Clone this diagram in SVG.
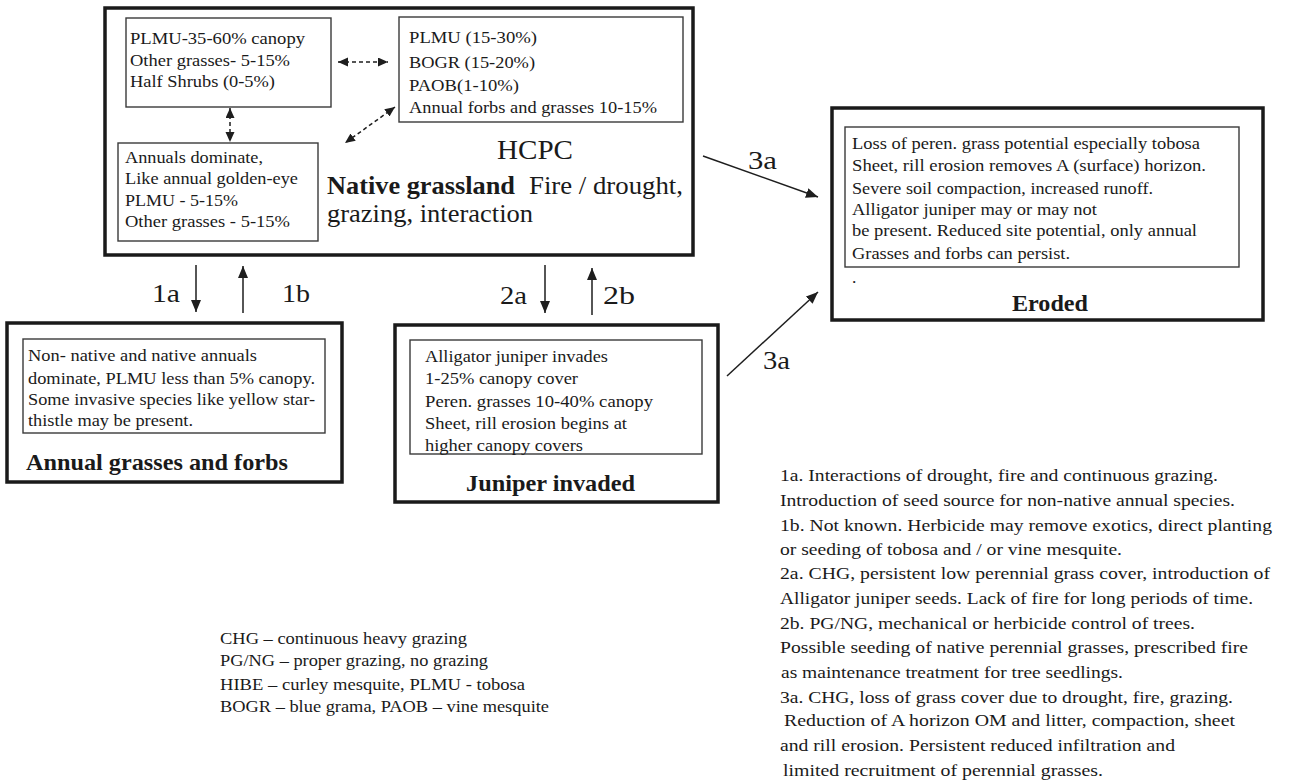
<svg xmlns="http://www.w3.org/2000/svg" width="1306" height="783" viewBox="0 0 1306 783">
<style>
text{font-family:"Liberation Serif","Times New Roman",serif;fill:#1a1a1a}
.t{font-size:17.5px}
.lg{font-size:17px}
.lab{font-size:26px}
.ttl{font-size:24px;font-weight:bold}
.outer{fill:#fff;stroke:#1a1a1a;stroke-width:3.5}
.inner{fill:#fff;stroke:#3a3a3a;stroke-width:1.4}
.ar{stroke:#1e1e1e;stroke-width:1.5;fill:none}
.da{stroke:#1e1e1e;stroke-width:1.5;fill:none;stroke-dasharray:4 3}
</style>
<defs>
<marker id="ah" markerUnits="userSpaceOnUse" markerWidth="14" markerHeight="12" refX="12" refY="5" orient="auto"><path d="M0,0 L12,5 L0,10 Z" fill="#1e1e1e"/></marker>
<marker id="dh" markerUnits="userSpaceOnUse" markerWidth="12" markerHeight="10" refX="10" refY="4.5" orient="auto-start-reverse"><path d="M0,0 L10,4.5 L0,9 Z" fill="#1e1e1e"/></marker>
</defs>
<rect width="1306" height="783" fill="#fff"/>

<g id="hcpc">
<rect class="outer" x="105" y="8" width="588" height="247"/>
<rect class="inner" x="126" y="18" width="205" height="89"/>
<text class="t" x="130" y="44" textLength="175" lengthAdjust="spacingAndGlyphs">PLMU-35-60% canopy</text>
<text class="t" x="130" y="66" textLength="160" lengthAdjust="spacingAndGlyphs">Other grasses- 5-15%</text>
<text class="t" x="130" y="87" textLength="145" lengthAdjust="spacingAndGlyphs">Half Shrubs (0-5%)</text>
<rect class="inner" x="399" y="17" width="284" height="105"/>
<text class="t" x="409" y="43" textLength="128" lengthAdjust="spacingAndGlyphs">PLMU (15-30%)</text>
<text class="t" x="409" y="68" textLength="126" lengthAdjust="spacingAndGlyphs">BOGR (15-20%)</text>
<text class="t" x="409" y="91" textLength="110" lengthAdjust="spacingAndGlyphs">PAOB(1-10%)</text>
<text class="t" x="409" y="113" textLength="248" lengthAdjust="spacingAndGlyphs">Annual forbs and grasses 10-15%</text>
<rect class="inner" x="118" y="143" width="200" height="98"/>
<text class="t" x="125" y="163" textLength="138" lengthAdjust="spacingAndGlyphs">Annuals dominate,</text>
<text class="t" x="125" y="184" textLength="173" lengthAdjust="spacingAndGlyphs">Like annual golden-eye</text>
<text class="t" x="125" y="206" textLength="113" lengthAdjust="spacingAndGlyphs">PLMU - 5-15%</text>
<text class="t" x="125" y="227" textLength="165" lengthAdjust="spacingAndGlyphs">Other grasses - 5-15%</text>
<text x="497" y="159" font-size="28" textLength="76" lengthAdjust="spacingAndGlyphs">HCPC</text>
<text x="327" y="194" font-size="25" font-weight="bold" textLength="188" lengthAdjust="spacingAndGlyphs">Native grassland</text>
<text x="529" y="194" font-size="25" textLength="154" lengthAdjust="spacingAndGlyphs">Fire / drought,</text>
<text x="327" y="222" font-size="25" textLength="206" lengthAdjust="spacingAndGlyphs">grazing, interaction</text>
</g>

<g id="annual">
<rect class="outer" x="7" y="323" width="335" height="159"/>
<rect class="inner" x="23" y="339" width="302" height="94"/>
<text class="t" x="28" y="361" textLength="229" lengthAdjust="spacingAndGlyphs">Non- native and native annuals</text>
<text class="t" x="28" y="384" textLength="287" lengthAdjust="spacingAndGlyphs">dominate, PLMU less than 5% canopy.</text>
<text class="t" x="28" y="405" textLength="287" lengthAdjust="spacingAndGlyphs">Some invasive species like yellow star-</text>
<text class="t" x="28" y="426" textLength="165" lengthAdjust="spacingAndGlyphs">thistle may be present.</text>
<text class="ttl" x="26" y="470" textLength="262" lengthAdjust="spacingAndGlyphs">Annual grasses and forbs</text>
</g>

<g id="juniper">
<rect class="outer" x="395" y="325" width="323" height="177"/>
<rect class="inner" x="410" y="340" width="292" height="114"/>
<text class="t" x="425" y="362" textLength="183" lengthAdjust="spacingAndGlyphs">Alligator juniper invades</text>
<text class="t" x="425" y="384" textLength="153" lengthAdjust="spacingAndGlyphs">1-25% canopy cover</text>
<text class="t" x="425" y="407" textLength="228" lengthAdjust="spacingAndGlyphs">Peren. grasses 10-40% canopy</text>
<text class="t" x="425" y="429" textLength="202" lengthAdjust="spacingAndGlyphs">Sheet, rill erosion begins at</text>
<text class="t" x="425" y="451" textLength="158" lengthAdjust="spacingAndGlyphs">higher canopy covers</text>
<text class="ttl" x="466" y="491" textLength="169" lengthAdjust="spacingAndGlyphs">Juniper invaded</text>
</g>

<g id="eroded">
<rect class="outer" x="832" y="108" width="431" height="212"/>
<rect class="inner" x="845" y="127" width="394" height="140"/>
<text class="t" x="852" y="149" textLength="348" lengthAdjust="spacingAndGlyphs">Loss of peren. grass potential especially tobosa</text>
<text class="t" x="852" y="171" textLength="354" lengthAdjust="spacingAndGlyphs">Sheet, rill erosion removes A (surface)  horizon.</text>
<text class="t" x="852" y="194" textLength="301" lengthAdjust="spacingAndGlyphs">Severe soil compaction, increased runoff.</text>
<text class="t" x="852" y="215" textLength="245" lengthAdjust="spacingAndGlyphs">Alligator juniper may or may not</text>
<text class="t" x="852" y="236" textLength="345" lengthAdjust="spacingAndGlyphs">be present. Reduced site potential, only annual</text>
<text class="t" x="852" y="259" textLength="218" lengthAdjust="spacingAndGlyphs">Grasses and forbs can persist.</text>
<text class="t" x="852" y="283">.</text>
<text class="ttl" x="1012" y="311" textLength="76" lengthAdjust="spacingAndGlyphs">Eroded</text>
</g>

<g id="connectors">
<line class="da" x1="338" y1="62" x2="388" y2="62" marker-start="url(#dh)" marker-end="url(#dh)"/>
<line class="da" x1="230" y1="108" x2="230" y2="142" marker-start="url(#dh)" marker-end="url(#dh)"/>
<line class="da" x1="395" y1="107" x2="345" y2="143" marker-start="url(#dh)" marker-end="url(#dh)"/>
<line class="ar" x1="196" y1="265" x2="196" y2="312" marker-end="url(#ah)"/>
<line class="ar" x1="243" y1="313" x2="243" y2="266" marker-end="url(#ah)"/>
<line class="ar" x1="545" y1="265" x2="545" y2="313" marker-end="url(#ah)"/>
<line class="ar" x1="592" y1="315" x2="592" y2="268" marker-end="url(#ah)"/>
<line class="ar" x1="703" y1="156" x2="818" y2="197" marker-end="url(#ah)"/>
<line class="ar" x1="727" y1="376" x2="818" y2="292" marker-end="url(#ah)"/>
<text class="lab" x="152" y="302" textLength="28" lengthAdjust="spacingAndGlyphs">1a</text>
<text class="lab" x="282" y="302" textLength="28" lengthAdjust="spacingAndGlyphs">1b</text>
<text class="lab" x="500" y="304" textLength="27" lengthAdjust="spacingAndGlyphs">2a</text>
<text class="lab" x="603" y="304" textLength="32" lengthAdjust="spacingAndGlyphs">2b</text>
<text class="lab" x="748" y="169" textLength="29" lengthAdjust="spacingAndGlyphs">3a</text>
<text class="lab" x="763" y="369" textLength="27" lengthAdjust="spacingAndGlyphs">3a</text>
</g>

<g id="legend-abbrev">
<text class="lg" x="220" y="644" textLength="247" lengthAdjust="spacingAndGlyphs">CHG – continuous heavy grazing</text>
<text class="lg" x="220" y="666" textLength="268" lengthAdjust="spacingAndGlyphs">PG/NG – proper grazing, no  grazing</text>
<text class="lg" x="220" y="690" textLength="305" lengthAdjust="spacingAndGlyphs">HIBE – curley mesquite, PLMU - tobosa</text>
<text class="lg" x="220" y="712" textLength="329" lengthAdjust="spacingAndGlyphs">BOGR – blue grama, PAOB – vine mesquite</text>
</g>

<g id="legend-transitions">
<text class="lg" x="780" y="481" textLength="438" lengthAdjust="spacingAndGlyphs">1a. Interactions of drought, fire and continuous grazing.</text>
<text class="lg" x="780" y="506" textLength="455" lengthAdjust="spacingAndGlyphs">Introduction of seed source for non-native annual species.</text>
<text class="lg" x="780" y="531" textLength="492" lengthAdjust="spacingAndGlyphs">1b. Not known. Herbicide may remove exotics, direct planting</text>
<text class="lg" x="780" y="555" textLength="342" lengthAdjust="spacingAndGlyphs">or seeding of tobosa and / or vine mesquite.</text>
<text class="lg" x="780" y="579" textLength="490" lengthAdjust="spacingAndGlyphs">2a. CHG, persistent low perennial grass cover, introduction of</text>
<text class="lg" x="780" y="604" textLength="473" lengthAdjust="spacingAndGlyphs">Alligator juniper seeds. Lack of fire for long periods of time.</text>
<text class="lg" x="780" y="629" textLength="415" lengthAdjust="spacingAndGlyphs">2b. PG/NG,  mechanical or herbicide control of trees.</text>
<text class="lg" x="780" y="653" textLength="468" lengthAdjust="spacingAndGlyphs">Possible seeding of native perennial grasses, prescribed fire</text>
<text class="lg" x="781" y="678" textLength="342" lengthAdjust="spacingAndGlyphs">as maintenance treatment for tree  seedlings.</text>
<text class="lg" x="780" y="703" textLength="453" lengthAdjust="spacingAndGlyphs">3a. CHG, loss of grass cover due to drought, fire, grazing.</text>
<text class="lg" x="784" y="726" textLength="451" lengthAdjust="spacingAndGlyphs">Reduction of A horizon OM and litter, compaction, sheet</text>
<text class="lg" x="780" y="751" textLength="395" lengthAdjust="spacingAndGlyphs">and rill erosion. Persistent reduced infiltration and</text>
<text class="lg" x="783" y="776" textLength="320" lengthAdjust="spacingAndGlyphs">limited recruitment of perennial grasses.</text>
</g>
</svg>
